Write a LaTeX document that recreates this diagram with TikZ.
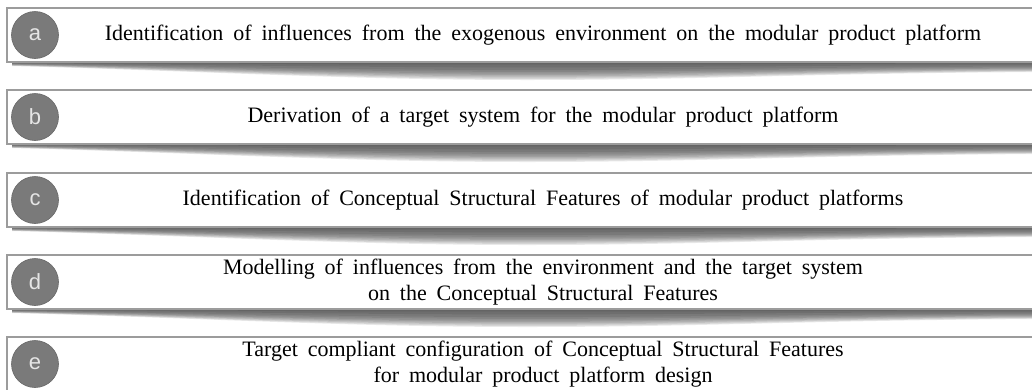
\documentclass[tikz,border=0pt]{standalone}
\usepackage{fontspec}
\setmainfont{Liberation Serif}
\newfontfamily\lettfont{Liberation Sans}
\definecolor{boxline}{HTML}{9C9C9C}
\definecolor{circfill}{HTML}{7A7A7A}
\newcommand\widespacing{\spaceskip=0.45em plus 0.1em minus 0.05em\relax}
\begin{document}
\begin{tikzpicture}[x=1pt,y=-1pt,
 stepbox/.style={draw=boxline, line width=1.3pt, fill=white, minimum width=1072pt, minimum height=54pt, inner sep=0pt, align=center, font={\fontsize{22}{26}\selectfont\widespacing}},
 badge/.style={circle, fill=circfill, draw=circfill!85!black, line width=0.6pt, minimum size=47pt, inner sep=0pt, text=white!90!black, font={\lettfont\fontsize{22}{22}\selectfont}}]
\clip (0,0) rectangle (1032,389);
\fill[white] (0,0) rectangle (1032,389);
\foreach \yb in {62,144,227,309}{
  \foreach \f in {0.15,0.3,0.45,0.55,0.65,0.72,0.8,0.87,0.94,1.0}{
    \fill[black, fill opacity=0.085] (12,\yb) -- (1045,\yb) -- (1045,\yb+10*\f)
      .. controls (820,\yb+11*\f) and (700,\yb+18*\f) .. (527,\yb+18*\f)
      .. controls (350,\yb+18*\f) and (200,\yb+9*\f) .. (12,\yb+4*\f) -- cycle;
  }
}
\node[stepbox] (a) at (543,35) {Identification of influences from the exogenous environment on the modular product platform};
\node[stepbox] (b) at (543,117) {Derivation of a target system for the modular product platform};
\node[stepbox] (c) at (543,200) {Identification of Conceptual Structural Features of modular product platforms};
\node[stepbox] (d) at (543,282) {Modelling of influences from the environment and the target system\\on the Conceptual Structural Features};
\node[stepbox] (e) at (543,364) {Target compliant configuration of Conceptual Structural Features\\for modular product platform design};
\node[badge] (la) at (35,35) {a};
\node[badge] (lb) at (35,117) {b};
\node[badge] (lc) at (35,200) {c};
\node[badge] (ld) at (35,282) {d};
\node[badge] (le) at (35,364) {e};
\end{tikzpicture}
\end{document}
